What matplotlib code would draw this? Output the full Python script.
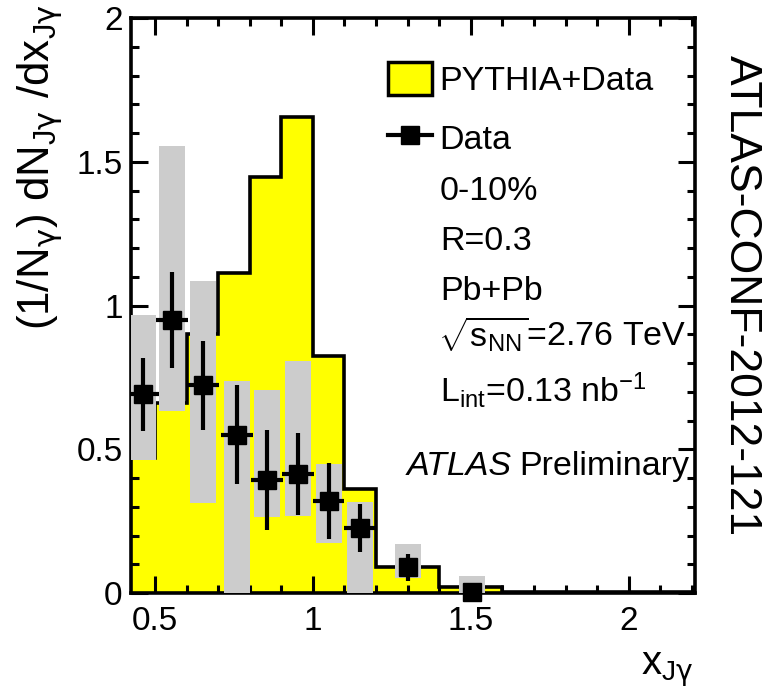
import numpy as np
import matplotlib
matplotlib.use("Agg")
import matplotlib.pyplot as plt
from matplotlib.patches import Patch
from matplotlib.lines import Line2D
from matplotlib.ticker import MultipleLocator, FormatStrFormatter

plt.rcParams['font.family'] = ['Liberation Sans', 'DejaVu Sans']
plt.rcParams['mathtext.fontset'] = 'custom'
plt.rcParams['mathtext.rm'] = 'Liberation Sans'
plt.rcParams['mathtext.it'] = 'Liberation Sans:italic'
plt.rcParams['mathtext.bf'] = 'Liberation Sans:bold'
plt.rcParams['mathtext.sf'] = 'DejaVu Sans'

# PYTHIA+Data histogram (bin edges and contents)
hist_edges = [0.4, 0.5, 0.6, 0.7, 0.8, 0.9, 1.0, 1.1, 1.2, 1.4, 1.6, 2.2]
hist_vals = [0.47, 0.661, 0.90, 1.113, 1.447, 1.656, 0.824, 0.362, 0.09, 0.021, 0.004]

# Data points
x_data = [0.462, 0.554, 0.652, 0.76, 0.855, 0.953, 1.05, 1.15, 1.30, 1.505]
y_data = [0.692, 0.950, 0.723, 0.550, 0.393, 0.414, 0.320, 0.226, 0.090, 0.004]
y_stat = [0.127, 0.167, 0.155, 0.172, 0.175, 0.143, 0.132, 0.084, 0.047, 0.01]
x_err = [0.05, 0.05, 0.05, 0.05, 0.05, 0.05, 0.05, 0.05, 0.0, 0.0]
# systematic band (lower, upper)
sys_lo = [0.463, 0.633, 0.313, -0.1, 0.264, 0.268, 0.174, -0.1, 0.052, -0.1]
sys_hi = [0.967, 1.555, 1.085, 0.737, 0.706, 0.807, 0.449, 0.317, 0.170, 0.059]

W, H = 766, 692
fig = plt.figure(figsize=(W / 100, H / 100), dpi=100)
ax = fig.add_axes([131 / W, 1 - 593 / H, 564 / W, 575 / H])

ax.stairs(hist_vals, hist_edges, fill=True, color='#ffff00', zorder=1)
ax.stairs(hist_vals, hist_edges, color='black', lw=2.6, zorder=2)

lo = np.array(sys_lo)
hi = np.array(sys_hi)
ax.bar(x_data, hi - lo, bottom=lo, width=0.082, color='#cccccc', zorder=3)

eb = ax.errorbar(x_data, y_data, yerr=y_stat, xerr=x_err, fmt='s', color='black',
                 ms=13, elinewidth=3, capsize=0, zorder=4, clip_on=False)
for c in eb[2]:
    c.set_clip_on(True)

ax.set_xlim(0.424, 2.21)
ax.set_ylim(0, 2)
ax.xaxis.set_major_locator(MultipleLocator(0.5))
ax.xaxis.set_minor_locator(MultipleLocator(0.1))
ax.yaxis.set_major_locator(MultipleLocator(0.5))
ax.yaxis.set_minor_locator(MultipleLocator(0.1))
ax.xaxis.set_major_formatter(FormatStrFormatter('%g'))
ax.yaxis.set_major_formatter(FormatStrFormatter('%g'))
ax.tick_params(which='both', direction='in', top=True, right=True, width=2.2,
               labelsize=24)
ax.tick_params(axis='x', pad=9)
ax.tick_params(axis='y', pad=6)
ax.tick_params(which='major', length=12)
ax.tick_params(which='minor', length=6)
for s in ax.spines.values():
    s.set_linewidth(2.6)

g = r'\mathsf{\gamma}'
fig.text(40 / W, 1 - 4 / H,
         r'(1/N$_{%s}$) dN$_{\mathrm{J}%s}$ /dx$_{\mathrm{J}%s}$' % (g, g, g),
         rotation=90, ha='center', va='top', fontsize=31.5)
fig.text(693 / W, 1 - 674 / H, r'x$_{\mathrm{J}%s}$' % g, ha='right',
         va='baseline', fontsize=29)
fig.text(741 / W, 1 - 296 / H, 'ATLAS-CONF-2012-121', rotation=270,
         ha='center', va='center', fontsize=32)

handles = [Patch(facecolor='#ffff00', edgecolor='black', lw=2.5),
           Line2D([], [], color='black', marker='s', ms=13, lw=3)]
ax.legend(handles, ['PYTHIA+Data', 'Data'], loc='upper left',
          bbox_to_anchor=(388 / W, 1 - 62 / H), bbox_transform=fig.transFigure,
          frameon=False, borderpad=0, borderaxespad=0, handlelength=1.3,
          handleheight=1.1, handletextpad=0.2, labelspacing=0.72, fontsize=24.5)

fs = 24.5
fig.text(440 / W, 1 - 200 / H, '0-10%', fontsize=fs, va='baseline')
fig.text(440 / W, 1 - 250 / H, 'R=0.3', fontsize=fs, va='baseline')
fig.text(440 / W, 1 - 300 / H, 'Pb+Pb', fontsize=fs, va='baseline')
fig.text(438 / W, 1 - 347 / H, r'$\sqrt{\mathrm{s}_{\mathrm{NN}}}$=2.76 TeV',
         fontsize=fs, va='baseline')
fig.text(440 / W, 1 - 402 / H, r'L$_{\mathrm{int}}$=0.13 nb$^{\mathrm{-1}}$',
         fontsize=fs, va='baseline')
fig.text(407 / W, 1 - 475 / H, 'ATLAS', fontsize=fs, style='italic',
         va='baseline')
fig.text(519 / W, 1 - 475 / H, 'Preliminary', fontsize=fs, va='baseline')

fig.savefig('out.png', dpi=100)
